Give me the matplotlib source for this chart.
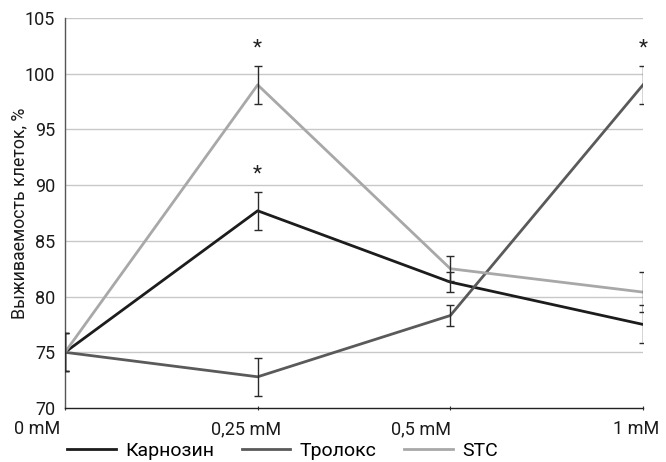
import matplotlib
matplotlib.use("Agg")
import matplotlib.pyplot as plt
import matplotlib.transforms as mtransforms
import numpy as np

plt.rcParams['font.family'] = ['Roboto', 'DejaVu Sans']

categories = ["0 mM", "0,25 mM", "0,5 mM", "1 mM"]
series_names = ["Карнозин", "Тролокс", "STC"]
carnosine = [75.0, 87.7, 81.3, 77.5]
carnosine_err = [1.7, 1.7, 0.9, 1.7]
trolox = [75.0, 72.8, 78.3, 99.0]
trolox_err = [1.7, 1.7, 0.9, 1.7]
stc = [75.0, 99.0, 82.5, 80.4]
stc_err = [1.7, 1.7, 1.1, 1.8]
# significance marks: (series index, category index)
stars = [(0, 1), (2, 1), (1, 3)]
ylabel = "Выживаемость клеток, %"
yticks = [70, 75, 80, 85, 90, 95, 100, 105]

colors = ["#1c1c1c", "#5a5a5a", "#a8a8a8"]
values = [carnosine, trolox, stc]
errors = [carnosine_err, trolox_err, stc_err]

FS = 13.0

fig = plt.figure(figsize=(6.66, 4.62), dpi=100)
ax = fig.add_axes([65/666, 54/462, (643-65)/666, (408-18)/462])

x = np.arange(len(categories))
for gy in yticks[1:]:
    ax.axhline(gy, color="#c8c8c8", lw=1.0, zorder=0)

handles = []
for vals, col, name in zip(values, colors, series_names):
    h, = ax.plot(x, vals, color=col, lw=2.0, label=name, zorder=3)
    handles.append(h)
for vals, errs in zip(values, errors):
    ax.errorbar(x, vals, yerr=errs, fmt='none', ecolor="#2a2a2a", elinewidth=1.0,
                capsize=3, capthick=1.0, zorder=4)

for si, ci in stars:
    ax.annotate("*", (x[ci], values[si][ci] + errors[si][ci]), xytext=(0, 6),
                textcoords="offset points", ha="center", va="bottom",
                fontsize=15, color="#222222")

ax.set_xlim(0, len(categories) - 1)
ax.set_ylim(70, 105)
ax.set_yticks(yticks)
ax.set_yticklabels([str(t) for t in yticks], fontsize=FS, color="#1a1a1a")
ax.tick_params(axis='y', length=0, pad=7)
ax.set_xticks(x)
ax.set_xticklabels([])
ax.tick_params(axis='x', length=3, direction='inout', color="#333333")
for s in ["top", "right"]:
    ax.spines[s].set_visible(False)
ax.spines["left"].set_color("#555555")
ax.spines["bottom"].set_color("#222222")
ax.spines["left"].set_linewidth(1.0)
ax.spines["bottom"].set_linewidth(1.0)

# x category labels (shifted as in the original)
shifts_px = [-28, -12, -29, -7]
for xi, lab, sh in zip(x, categories, shifts_px):
    tr = ax.get_xaxis_transform() + mtransforms.ScaledTranslation(sh/100, -0.12, fig.dpi_scale_trans)
    ax.text(xi, 0, lab, transform=tr, ha="center", va="top", fontsize=FS,
            color="#1a1a1a")

ax.set_ylabel(ylabel, fontsize=12.8, color="#1a1a1a")
ax.yaxis.set_label_coords(-0.064, 0.5)

fig.legend(handles=handles, labels=series_names, loc="center left",
           bbox_to_anchor=(67/666, 1 - 451/462), ncol=3, frameon=False, fontsize=14,
           handlelength=2.5, columnspacing=1.4, handletextpad=0.5,
           borderpad=0, borderaxespad=0)

fig.savefig("out.png", dpi=100)
